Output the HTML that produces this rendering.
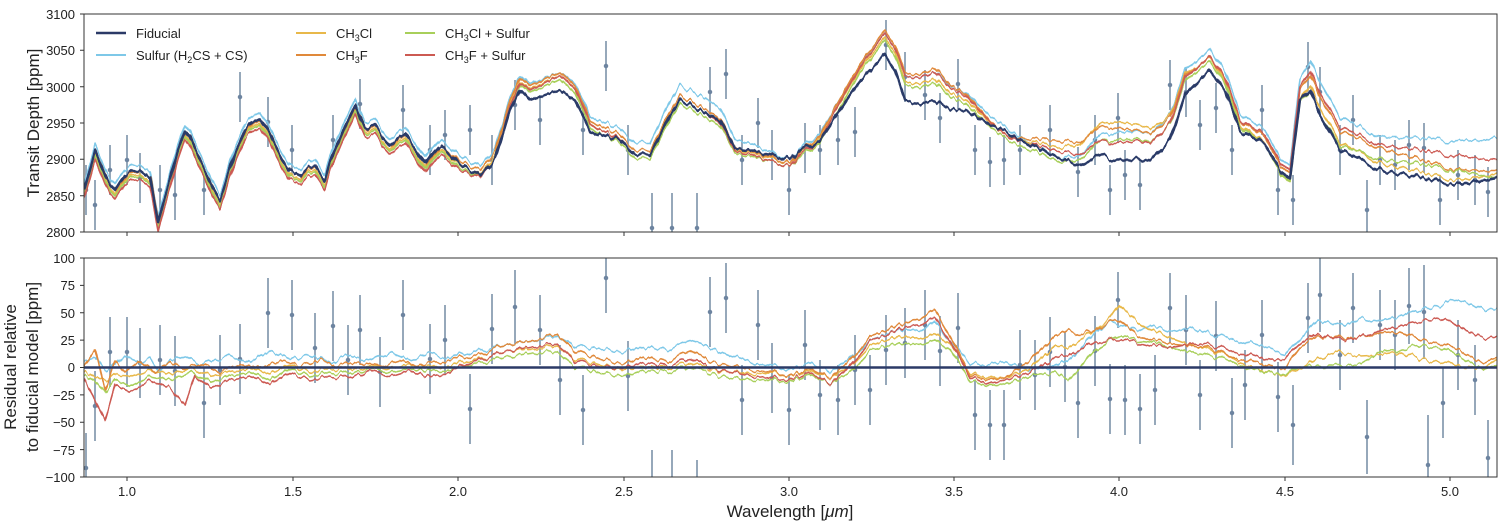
<!DOCTYPE html>
<html><head><meta charset="utf-8"><style>
html,body{margin:0;padding:0;background:#fff;}
svg{display:block;font-family:"Liberation Sans","DejaVu Sans",sans-serif;}
</style></head><body>
<svg width="1499" height="522" viewBox="0 0 1499 522" xmlns="http://www.w3.org/2000/svg">
<defs>
<clipPath id="c1"><rect x="84" y="14" width="1413" height="218"/></clipPath>
<clipPath id="c2"><rect x="84" y="258" width="1413" height="219"/></clipPath>
<filter id="jit" filterUnits="userSpaceOnUse" x="0" y="0" width="1499" height="522">
<feTurbulence type="fractalNoise" baseFrequency="0.18 0.01" numOctaves="2" seed="3" result="n"/>
<feColorMatrix in="n" type="matrix" values="0 0 0 0 0.5  0 1 0 0 0  0 0 0 0 0  0 0 0 0 1" result="m"/>
<feDisplacementMap in="SourceGraphic" in2="m" scale="9" xChannelSelector="R" yChannelSelector="G"/>
</filter>
<polyline id="fa" fill="none" stroke-linejoin="round" points="84,190 90,168 95,150 100,162 105,175 110,184 115,190 120,182 125,175 132,171 140,170 145,174 150,178 154,200 158,222 164,200 170,180 178,150 185,130 190,138 195,150 200,160 205,170 212,186 220,200 228,175 236,150 245,130 252,122 260,118 268,130 275,145 282,158 290,170 300,175 307,168 315,165 325,180 330,162 335,150 345,126 355,105 360,118 365,130 375,125 382,136 390,145 398,138 405,135 415,150 425,165 432,155 440,145"/>
</defs>
<rect width="1499" height="522" fill="#fff"/>

<g clip-path="url(#c1)">
<path fill="none" stroke="#8a9fb2" stroke-width="1.8" d="M86 165V215M95 180V230M110 145V195M127 135V185M140 153V203M160 165V215M175 170V220M204 165V215M240 72V122M268 97V147M292 125V175M333 115V165M360 79V129M403 85V135M430 125V175M445 110V160M470 105V155M492 135V185M515 80V130M540 95V145M583 105V155M606 41V91M628 125V175M652 193V243M672 193V243M697 193V243M710 67V117M726 49V99M742 135V185M758 98V148M772 130V180M789 165V215M805 123V173M820 125V175M838 115V165M855 107V157M886 20V70M905 52V102M925 70V120M940 93V143M958 59V109M975 125V175M990 137V187M1004 135V185M1020 125V175M1050 105V155M1078 147V197M1095 115V165M1110 165V215M1118 93V143M1125 150V200M1140 160V210M1170 60V110M1186 67V117M1200 100V150M1216 83V133M1232 125V175M1262 85V135M1278 165V215M1293 175V225M1308 42V92M1320 67V117M1340 125V175M1353 95V145M1367 180V235M1380 135V185M1395 140V190M1409 120V170M1424 123V173M1440 175V225M1458 150V200M1475 155V205M1488 167V217"/>
<path fill="none" stroke="#6d84a0" stroke-width="4.5" stroke-linecap="round" d="M86 190h0M95 205h0M110 170h0M127 160h0M140 178h0M160 190h0M175 195h0M204 190h0M240 97h0M268 122h0M292 150h0M333 140h0M360 104h0M403 110h0M430 150h0M445 135h0M470 130h0M492 160h0M515 105h0M540 120h0M583 130h0M606 66h0M628 150h0M652 228h0M672 228h0M697 228h0M710 92h0M726 74h0M742 160h0M758 123h0M772 155h0M789 190h0M805 148h0M820 150h0M838 140h0M855 132h0M886 45h0M905 77h0M925 95h0M940 118h0M958 84h0M975 150h0M990 162h0M1004 160h0M1020 150h0M1050 130h0M1078 172h0M1095 140h0M1110 190h0M1118 118h0M1125 175h0M1140 185h0M1170 85h0M1186 92h0M1200 125h0M1216 108h0M1232 150h0M1262 110h0M1278 190h0M1293 200h0M1308 67h0M1320 92h0M1340 150h0M1353 120h0M1367 210h0M1380 160h0M1395 165h0M1409 145h0M1424 148h0M1440 200h0M1458 175h0M1475 180h0M1488 192h0"/>
<g filter="url(#jit)">
<g fill="none" stroke-linejoin="round" stroke-width="1.6">
<use href="#fa" stroke="#7ec8e8" transform="translate(0,-6)"/>
<use href="#fa" stroke="#e8b84a" transform="translate(0,4)"/>
<use href="#fa" stroke="#e0893a" transform="translate(1,1)"/>
<use href="#fa" stroke="#a8cf5a" transform="translate(0,6)"/>
<use href="#fa" stroke="#cc5a52" transform="translate(0,9)"/>
</g>
<use href="#fa" stroke="#2b3a67" stroke-width="2.5"/>
<g fill="none" stroke-linejoin="round" stroke-width="1.6">
<polyline stroke="#7ec8e8" points="440,139 460,157 480,166 495,149 510,97 520,76 530,85 545,78 560,72 575,84 590,115 600,121 620,129 635,143 650,143 670,101 680,86 700,95 720,108 735,139 750,143 770,152 790,160 800,148 820,133 840,99 860,64 870,52 885,34 895,47 905,75 920,78 935,71 950,86 965,92 990,116 1005,126 1020,137 1040,149 1060,160 1080,155 1100,135 1115,133 1135,132 1150,134 1170,115 1185,71 1200,58 1210,49 1225,71 1240,113 1265,131 1280,158 1290,166 1300,78 1310,61 1320,82 1340,117 1380,137 1410,137 1430,139 1460,142 1497,138"/>
<polyline stroke="#e8b84a" points="440,149 460,166 480,174 495,156 510,103 520,82 530,90 545,82 560,75 575,89 590,122 600,130 620,139 635,155 650,155 670,115 680,100 700,110 720,121 735,150 750,152 770,158 790,164 800,152 820,137 840,103 860,68 870,56 885,38 895,51 905,81 920,84 935,78 950,93 965,99 990,123 1005,134 1020,140 1040,144 1060,149 1080,144 1100,124 1115,122 1135,125 1150,129 1170,116 1185,75 1200,65 1210,57 1225,81 1240,124 1265,144 1280,173 1290,183 1300,99 1310,85 1320,108 1340,143 1380,163 1410,169 1430,175 1460,181 1497,174"/>
<polyline stroke="#e0893a" points="440,145 460,162 480,170 495,152 510,100 520,78 530,87 545,79 560,72 575,86 590,119 600,126 620,135 635,151 650,151 670,111 680,96 700,106 720,118 735,147 750,151 770,157 790,164 800,151 820,135 840,99 860,63 870,50 885,31 895,44 905,72 920,75 935,67 950,85 965,93 990,121 1005,134 1020,138 1040,140 1060,142 1080,142 1100,127 1115,128 1135,131 1150,134 1170,118 1185,77 1200,65 1210,56 1225,78 1240,120 1265,138 1280,165 1290,174 1300,89 1310,75 1320,97 1340,131 1380,148 1410,156 1430,163 1460,171 1497,171"/>
<polyline stroke="#a8cf5a" points="440,151 460,169 480,176 495,159 510,106 520,85 530,93 545,86 560,79 575,93 590,126 600,134 620,143 635,159 650,159 670,119 680,104 700,114 720,125 735,153 750,156 770,161 790,167 800,156 820,142 840,108 860,71 870,59 885,41 895,55 905,84 920,88 935,82 950,97 965,103 990,127 1005,137 1020,146 1040,154 1060,164 1080,159 1100,141 1115,140 1135,140 1150,142 1170,125 1185,82 1200,69 1210,61 1225,83 1240,126 1265,145 1280,173 1290,183 1300,102 1310,91 1320,115 1340,146 1380,159 1410,162 1430,166 1460,172 1497,178"/>
<polyline stroke="#cc5a52" points="440,154 460,171 480,177 495,159 510,106 520,83 530,91 545,83 560,75 575,89 590,122 600,130 620,139 635,155 650,155 670,115 680,100 700,110 720,122 735,151 750,154 770,161 790,167 800,154 820,140 840,102 860,66 870,53 885,34 895,47 905,75 920,78 935,71 950,88 965,95 990,122 1005,134 1020,141 1040,147 1060,153 1080,154 1100,141 1115,143 1135,142 1150,143 1170,124 1185,79 1200,65 1210,56 1225,77 1240,119 1265,136 1280,162 1290,171 1300,86 1310,71 1320,93 1340,127 1380,145 1410,148 1430,152 1460,157 1497,160"/>
<polyline stroke="#2b3a67" stroke-width="2.5" points="440,145 460,165 480,175 495,160 510,110 520,90 530,100 545,95 560,90 575,100 590,130 600,135 620,140 635,155 650,155 670,115 680,100 700,110 720,120 735,148 750,150 770,155 790,160 800,150 820,140 840,110 860,80 870,70 885,55 895,70 905,100 920,105 935,100 950,110 965,110 990,125 1005,130 1020,140 1040,150 1060,160 1080,165 1100,155 1115,160 1135,160 1150,160 1170,140 1185,95 1200,80 1210,70 1225,90 1240,130 1265,145 1280,170 1290,180 1300,100 1310,90 1320,115 1340,150 1380,170 1410,175 1430,180 1460,185 1497,178"/>
</g>
</g>
</g>

<g clip-path="url(#c2)">
<path fill="none" stroke="#8a9fb2" stroke-width="1.8" d="M86 433V503M95 371V441M110 317V387M127 317V387M140 328V398M160 325V395M175 336V406M204 368V438M220 335V405M240 324V394M268 278V348M292 280V350M315 313V383M333 291V361M348 325V395M360 295V365M380 337V407M403 280V350M430 324V394M445 305V375M470 374V444M492 294V364M515 270V344M540 295V365M560 345V415M583 375V445M606 243V313M628 341V411M652 450V530M672 450V530M697 460V530M710 277V347M726 263V333M742 365V435M758 290V360M772 343V413M789 375V445M805 310V380M820 360V430M838 365V435M855 335V405M870 355V425M886 315V385M905 308V378M925 290V360M940 316V386M958 293V363M975 380V450M990 390V460M1004 390V460M1020 330V400M1035 340V410M1050 317V387M1065 332V402M1078 368V438M1095 316V386M1110 364V434M1118 272V328M1125 365V435M1140 374V444M1155 355V425M1170 273V343M1186 295V365M1200 360V430M1216 301V371M1232 378V448M1245 350V420M1262 300V370M1278 362V432M1293 385V465M1308 283V353M1320 258V332M1340 320V390M1353 273V343M1367 400V474M1380 290V360M1395 300V370M1409 268V344M1424 265V359M1428 415V510M1443 368V438M1458 320V390M1475 345V415M1488 420V500"/>
<path fill="none" stroke="#6d84a0" stroke-width="4.5" stroke-linecap="round" d="M86 468h0M95 406h0M110 352h0M127 352h0M140 363h0M160 360h0M175 371h0M204 403h0M220 370h0M240 359h0M268 313h0M292 315h0M315 348h0M333 326h0M348 360h0M360 330h0M380 372h0M403 315h0M430 359h0M445 340h0M470 409h0M492 329h0M515 307h0M540 330h0M560 380h0M583 410h0M606 278h0M628 376h0M710 312h0M726 298h0M742 400h0M758 325h0M772 378h0M789 410h0M805 345h0M820 395h0M838 400h0M855 370h0M870 390h0M886 350h0M905 343h0M925 325h0M940 351h0M958 328h0M975 415h0M990 425h0M1004 425h0M1020 365h0M1035 375h0M1050 352h0M1065 367h0M1078 403h0M1095 351h0M1110 399h0M1118 300h0M1125 400h0M1140 409h0M1155 390h0M1170 308h0M1186 330h0M1200 395h0M1216 336h0M1232 413h0M1245 385h0M1262 335h0M1278 397h0M1293 425h0M1308 318h0M1320 295h0M1340 355h0M1353 308h0M1367 437h0M1380 325h0M1395 335h0M1409 306h0M1424 312h0M1428 465h0M1443 403h0M1458 355h0M1475 380h0M1488 458h0"/>
<g fill="none" stroke-linejoin="round" stroke-width="1.6" filter="url(#jit)">
<polyline stroke="#7ec8e8" points="84,362 95,358 105,370 115,365 125,356 140,362 150,358 160,372 170,360 185,355 200,365 215,360 230,356 250,362 270,352 290,360 310,355 330,362 350,356 370,360 390,352 410,360 430,354 450,358 470,352 490,348 510,344 530,340 557,336 575,345 600,350 624,352 645,346 665,350 690,342 710,348 730,356 750,362 770,366 789,370 810,362 830,372 850,358 870,340 888,334 905,328 920,330 935,322 950,340 970,362 990,365 1005,362 1030,370 1055,366 1068,360 1080,350 1095,332 1110,322 1119,325 1135,330 1150,326 1170,332 1190,328 1210,334 1230,338 1250,344 1270,350 1285,354 1300,340 1318,320 1340,326 1360,318 1380,322 1400,316 1420,310 1440,306 1450,300 1465,302 1480,308 1497,310"/>
<polyline stroke="#e8b84a" points="84,372 95,378 105,380 115,375 130,376 150,370 170,374 190,368 210,376 230,372 250,368 270,374 290,366 310,372 330,368 350,370 370,366 390,368 410,364 430,368 450,366 470,360 490,356 510,350 530,348 557,346 575,358 600,366 624,370 645,366 665,368 690,364 710,370 730,372 750,374 770,373 789,376 810,370 830,378 850,366 870,345 888,340 905,335 920,338 935,334 950,342 970,372 990,378 1005,378 1030,368 1055,346 1068,348 1080,340 1095,330 1110,318 1119,305 1135,320 1150,330 1170,338 1190,345 1210,350 1230,356 1250,368 1270,374 1285,375 1300,370 1318,358 1340,352 1360,356 1380,355 1400,352 1420,360 1440,362 1460,366 1480,368 1497,360"/>
<polyline stroke="#e0893a" points="84,367 95,350 105,390 115,362 125,372 140,360 155,372 170,362 185,368 200,364 220,372 240,364 260,368 280,362 300,366 320,360 340,366 360,362 380,366 400,360 420,366 440,362 460,358 480,354 500,346 520,342 540,338 557,334 575,350 600,360 624,364 645,356 665,362 690,352 710,362 730,366 750,370 770,372 789,376 810,368 830,378 850,360 870,336 888,330 905,322 920,318 935,310 950,335 970,374 990,380 1005,378 1030,360 1055,336 1068,330 1080,335 1095,330 1110,322 1119,320 1135,334 1150,340 1170,344 1190,346 1210,348 1230,356 1250,362 1270,368 1285,368 1300,348 1318,336 1340,338 1360,336 1380,334 1400,332 1420,340 1440,344 1460,350 1480,362 1497,358"/>
<polyline stroke="#a8cf5a" points="84,376 95,382 105,392 115,380 130,386 150,376 170,380 190,372 210,382 230,376 250,372 270,380 290,370 310,376 330,372 350,374 370,368 390,372 410,368 430,372 450,370 470,364 490,360 510,356 530,352 557,352 575,366 600,374 624,376 645,370 665,372 690,368 710,374 730,378 750,380 770,380 789,382 810,374 830,384 850,372 870,350 888,346 905,342 920,344 935,340 950,348 970,380 990,386 1005,384 1030,376 1055,372 1068,380 1080,368 1095,350 1110,340 1119,336 1135,340 1150,342 1170,348 1190,352 1210,356 1230,360 1250,370 1270,374 1285,374 1300,368 1318,366 1340,366 1360,364 1380,352 1400,350 1420,346 1440,348 1460,356 1480,368 1497,366"/>
<polyline stroke="#cc5a52" points="84,380 95,400 105,420 115,385 130,392 150,380 170,388 185,405 195,376 210,388 230,380 250,376 270,384 290,374 310,380 330,376 350,378 370,370 390,376 410,370 430,378 450,372 470,362 490,356 510,350 530,346 557,344 575,360 600,368 624,368 645,362 665,366 690,360 710,368 730,372 750,376 770,378 789,380 810,372 830,384 850,366 870,340 888,335 905,326 920,324 935,318 950,340 970,376 990,384 1005,380 1030,372 1055,358 1068,355 1080,350 1095,342 1110,340 1119,340 1135,342 1150,346 1170,348 1190,344 1210,345 1230,350 1250,356 1270,362 1285,358 1300,344 1318,334 1340,340 1360,336 1380,332 1400,326 1420,322 1440,318 1450,322 1465,330 1480,336 1497,338"/>
</g>
<line x1="84" y1="367.5" x2="1497" y2="367.5" stroke="#2b3a67" stroke-width="2.5"/>
</g>

<g stroke="#333" stroke-width="1">
<path d="M127 232v4M293 232v4M458 232v4M624 232v4M789 232v4M954 232v4M1119 232v4M1285 232v4M1450 232v4M127 477v4M293 477v4M458 477v4M624 477v4M789 477v4M954 477v4M1119 477v4M1285 477v4M1450 477v4"/>
<path d="M80 14h4M80 50.3h4M80 86.7h4M80 123h4M80 159.3h4M80 195.7h4M80 232h4M80 258h4M80 285.4h4M80 312.8h4M80 340.1h4M80 367.5h4M80 394.9h4M80 422.3h4M80 449.6h4M80 477h4"/>
</g>
<rect x="84" y="14" width="1413" height="218" fill="none" stroke="#333" stroke-width="1"/>
<rect x="84" y="258" width="1413" height="219" fill="none" stroke="#333" stroke-width="1"/>
<g font-size="13" fill="#222" text-anchor="end">
<text x="75" y="19">3100</text><text x="75" y="55">3050</text><text x="75" y="92">3000</text>
<text x="75" y="128">2950</text><text x="75" y="164">2900</text><text x="75" y="201">2850</text><text x="75" y="237">2800</text>
<text x="75" y="263">100</text><text x="75" y="290">75</text><text x="75" y="318">50</text><text x="75" y="345">25</text>
<text x="75" y="372">0</text><text x="75" y="400">−25</text><text x="75" y="427">−50</text><text x="75" y="455">−75</text><text x="75" y="482">−100</text>
</g>
<g font-size="13" fill="#222" text-anchor="middle">
<text x="127" y="496">1.0</text><text x="293" y="496">1.5</text><text x="458" y="496">2.0</text><text x="624" y="496">2.5</text>
<text x="789" y="496">3.0</text><text x="954" y="496">3.5</text><text x="1119" y="496">4.0</text><text x="1285" y="496">4.5</text><text x="1450" y="496">5.0</text>
</g>
<text x="790" y="517" font-size="17" text-anchor="middle" fill="#222">Wavelength [<tspan font-style="italic">μm</tspan>]</text>
<text transform="translate(39,123) rotate(-90)" font-size="17" text-anchor="middle" fill="#222">Transit Depth [ppm]</text>
<text transform="translate(16,367) rotate(-90)" font-size="17" text-anchor="middle" fill="#222">Residual relative</text>
<text transform="translate(38,367) rotate(-90)" font-size="17" text-anchor="middle" fill="#222">to fiducial model [ppm]</text>
<g font-size="13" fill="#222">
<line x1="96" y1="33" x2="126" y2="33" stroke="#2b3a67" stroke-width="2.5"/><text x="136" y="38">Fiducial</text>
<line x1="96" y1="55" x2="126" y2="55" stroke="#7ec8e8" stroke-width="2"/><text x="136" y="60">Sulfur (H<tspan font-size="9" dy="3">2</tspan><tspan dy="-3">CS + CS)</tspan></text>
<line x1="296" y1="33" x2="326" y2="33" stroke="#e8b84a" stroke-width="2"/><text x="336" y="38">CH<tspan font-size="9" dy="3">3</tspan><tspan dy="-3">Cl</tspan></text>
<line x1="296" y1="55" x2="326" y2="55" stroke="#e0893a" stroke-width="2"/><text x="336" y="60">CH<tspan font-size="9" dy="3">3</tspan><tspan dy="-3">F</tspan></text>
<line x1="405" y1="33" x2="435" y2="33" stroke="#a8cf5a" stroke-width="2"/><text x="445" y="38">CH<tspan font-size="9" dy="3">3</tspan><tspan dy="-3">Cl + Sulfur</tspan></text>
<line x1="405" y1="55" x2="435" y2="55" stroke="#cc5a52" stroke-width="2"/><text x="445" y="60">CH<tspan font-size="9" dy="3">3</tspan><tspan dy="-3">F + Sulfur</tspan></text>
</g>
</svg>
</body></html>
